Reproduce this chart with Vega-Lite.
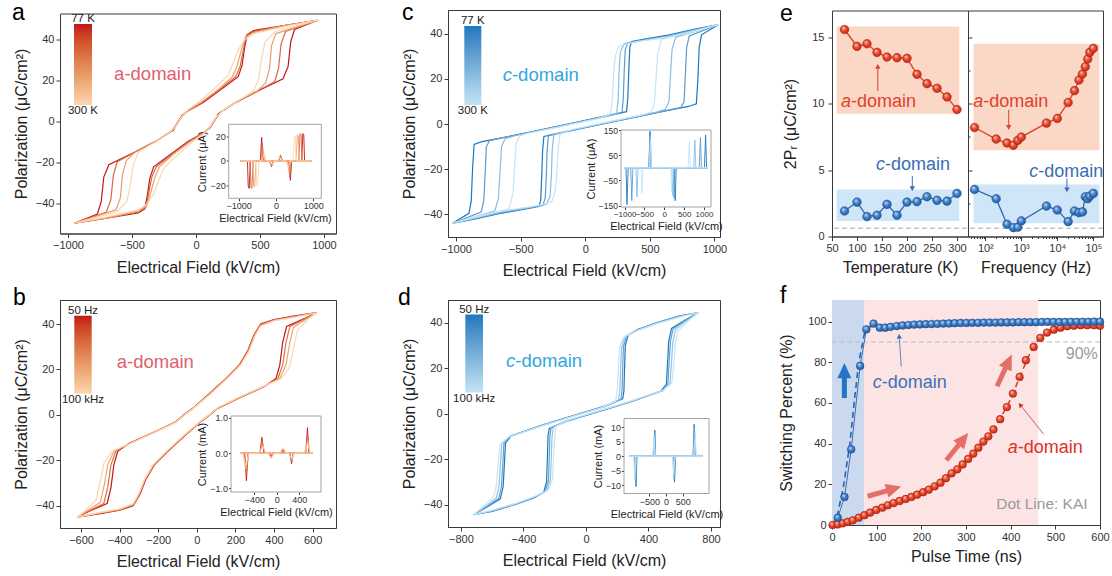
{
"$schema":"https://vega.github.io/schema/vega-lite/v6.json",
"background":"white",
"padding":{"left":11,"top":1,"right":4,"bottom":4},
"config":{
 "font":"Liberation Sans",
 "view":{"stroke":"#3a3a3a","strokeWidth":1},
 "axis":{"grid":false,"domainColor":"#3a3a3a","tickColor":"#3a3a3a","labelColor":"#333","titleColor":"#222","labelFontSize":11,"titleFontSize":16,"titleFontWeight":"normal","tickSize":4,"labelPadding":2,"labelOverlap":false,"labelFlush":false},
 "axisX":{"titlePadding":8.5},
 "axisY":{"titlePadding":6},
 "title":{"fontSize":23,"fontWeight":"normal","anchor":"start","frame":"group","offset":0,"baseline":"alphabetic","color":"#000"}
},
"datasets":{
"one":[{"k":1}],
"aLoop":[
{"T":77,"i":0,"E":950,"P":49.5},{"T":77,"i":1,"E":700,"P":47},{"T":77,"i":2,"E":450,"P":44.5},{"T":77,"i":3,"E":400,"P":42.5},{"T":77,"i":4,"E":380,"P":36},{"T":77,"i":5,"E":360,"P":27.5},{"T":77,"i":6,"E":330,"P":22},{"T":77,"i":7,"E":200,"P":16},{"T":77,"i":8,"E":60,"P":9.5},{"T":77,"i":9,"E":-70,"P":5},{"T":77,"i":10,"E":-110,"P":3},{"T":77,"i":11,"E":-140,"P":0},{"T":77,"i":12,"E":-175,"P":-4},{"T":77,"i":13,"E":-300,"P":-9},{"T":77,"i":14,"E":-500,"P":-15.5},{"T":77,"i":15,"E":-680,"P":-21},{"T":77,"i":16,"E":-720,"P":-27},{"T":77,"i":17,"E":-740,"P":-39},{"T":77,"i":18,"E":-770,"P":-45},{"T":77,"i":19,"E":-950,"P":-49.5},{"T":77,"i":20,"E":-700,"P":-47},{"T":77,"i":21,"E":-450,"P":-44.5},{"T":77,"i":22,"E":-400,"P":-42.5},{"T":77,"i":23,"E":-380,"P":-36},{"T":77,"i":24,"E":-360,"P":-27.5},{"T":77,"i":25,"E":-330,"P":-22},{"T":77,"i":26,"E":-200,"P":-16},{"T":77,"i":27,"E":-60,"P":-9.5},{"T":77,"i":28,"E":70,"P":-5},{"T":77,"i":29,"E":110,"P":-3},{"T":77,"i":30,"E":140,"P":0},{"T":77,"i":31,"E":175,"P":4},{"T":77,"i":32,"E":300,"P":9},{"T":77,"i":33,"E":500,"P":15.5},{"T":77,"i":34,"E":680,"P":21},{"T":77,"i":35,"E":720,"P":27},{"T":77,"i":36,"E":740,"P":39},{"T":77,"i":37,"E":770,"P":45},{"T":77,"i":38,"E":950,"P":49.5},
{"T":150,"i":0,"E":950,"P":49.5},{"T":150,"i":1,"E":700,"P":47},{"T":150,"i":2,"E":450,"P":44},{"T":150,"i":3,"E":390,"P":41.5},{"T":150,"i":4,"E":370,"P":35},{"T":150,"i":5,"E":345,"P":27},{"T":150,"i":6,"E":310,"P":22},{"T":150,"i":7,"E":190,"P":16},{"T":150,"i":8,"E":50,"P":9.5},{"T":150,"i":9,"E":-65,"P":5.5},{"T":150,"i":10,"E":-110,"P":2.5},{"T":150,"i":11,"E":-150,"P":-1},{"T":150,"i":12,"E":-190,"P":-4.5},{"T":150,"i":13,"E":-300,"P":-9},{"T":150,"i":14,"E":-480,"P":-15},{"T":150,"i":15,"E":-615,"P":-19.5},{"T":150,"i":16,"E":-645,"P":-26},{"T":150,"i":17,"E":-665,"P":-38},{"T":150,"i":18,"E":-700,"P":-44},{"T":150,"i":19,"E":-950,"P":-49.5},{"T":150,"i":20,"E":-700,"P":-47},{"T":150,"i":21,"E":-450,"P":-44},{"T":150,"i":22,"E":-390,"P":-41.5},{"T":150,"i":23,"E":-370,"P":-35},{"T":150,"i":24,"E":-345,"P":-27},{"T":150,"i":25,"E":-310,"P":-22},{"T":150,"i":26,"E":-190,"P":-16},{"T":150,"i":27,"E":-50,"P":-9.5},{"T":150,"i":28,"E":65,"P":-5.5},{"T":150,"i":29,"E":110,"P":-2.5},{"T":150,"i":30,"E":150,"P":1},{"T":150,"i":31,"E":190,"P":4.5},{"T":150,"i":32,"E":300,"P":9},{"T":150,"i":33,"E":480,"P":15},{"T":150,"i":34,"E":615,"P":19.5},{"T":150,"i":35,"E":645,"P":26},{"T":150,"i":36,"E":665,"P":38},{"T":150,"i":37,"E":700,"P":44},{"T":150,"i":38,"E":950,"P":49.5},
{"T":220,"i":0,"E":950,"P":49.5},{"T":220,"i":1,"E":700,"P":47},{"T":220,"i":2,"E":450,"P":43.5},{"T":220,"i":3,"E":385,"P":41},{"T":220,"i":4,"E":355,"P":35},{"T":220,"i":5,"E":320,"P":27},{"T":220,"i":6,"E":285,"P":22},{"T":220,"i":7,"E":180,"P":16},{"T":220,"i":8,"E":40,"P":9.5},{"T":220,"i":9,"E":-60,"P":5.5},{"T":220,"i":10,"E":-110,"P":2.5},{"T":220,"i":11,"E":-150,"P":-1.5},{"T":220,"i":12,"E":-200,"P":-5},{"T":220,"i":13,"E":-320,"P":-10},{"T":220,"i":14,"E":-480,"P":-15},{"T":220,"i":15,"E":-545,"P":-19},{"T":220,"i":16,"E":-575,"P":-26},{"T":220,"i":17,"E":-590,"P":-37},{"T":220,"i":18,"E":-625,"P":-43},{"T":220,"i":19,"E":-950,"P":-49.5},{"T":220,"i":20,"E":-700,"P":-47},{"T":220,"i":21,"E":-450,"P":-43.5},{"T":220,"i":22,"E":-385,"P":-41},{"T":220,"i":23,"E":-355,"P":-35},{"T":220,"i":24,"E":-320,"P":-27},{"T":220,"i":25,"E":-285,"P":-22},{"T":220,"i":26,"E":-180,"P":-16},{"T":220,"i":27,"E":-40,"P":-9.5},{"T":220,"i":28,"E":60,"P":-5.5},{"T":220,"i":29,"E":110,"P":-2.5},{"T":220,"i":30,"E":150,"P":1.5},{"T":220,"i":31,"E":200,"P":5},{"T":220,"i":32,"E":320,"P":10},{"T":220,"i":33,"E":480,"P":15},{"T":220,"i":34,"E":545,"P":19},{"T":220,"i":35,"E":575,"P":26},{"T":220,"i":36,"E":590,"P":37},{"T":220,"i":37,"E":625,"P":43},{"T":220,"i":38,"E":950,"P":49.5},
{"T":300,"i":0,"E":950,"P":49.5},{"T":300,"i":1,"E":700,"P":46.5},{"T":300,"i":2,"E":450,"P":43},{"T":300,"i":3,"E":380,"P":40},{"T":300,"i":4,"E":330,"P":35},{"T":300,"i":5,"E":290,"P":28.5},{"T":300,"i":6,"E":250,"P":22.5},{"T":300,"i":7,"E":150,"P":16.5},{"T":300,"i":8,"E":30,"P":10},{"T":300,"i":9,"E":-60,"P":6},{"T":300,"i":10,"E":-110,"P":2.5},{"T":300,"i":11,"E":-160,"P":-2.5},{"T":300,"i":12,"E":-220,"P":-6},{"T":300,"i":13,"E":-350,"P":-11},{"T":300,"i":14,"E":-450,"P":-15},{"T":300,"i":15,"E":-490,"P":-21},{"T":300,"i":16,"E":-510,"P":-30},{"T":300,"i":17,"E":-540,"P":-39},{"T":300,"i":18,"E":-620,"P":-44},{"T":300,"i":19,"E":-950,"P":-49.5},{"T":300,"i":20,"E":-700,"P":-46.5},{"T":300,"i":21,"E":-450,"P":-43},{"T":300,"i":22,"E":-380,"P":-40},{"T":300,"i":23,"E":-330,"P":-35},{"T":300,"i":24,"E":-290,"P":-28.5},{"T":300,"i":25,"E":-250,"P":-22.5},{"T":300,"i":26,"E":-150,"P":-16.5},{"T":300,"i":27,"E":-30,"P":-10},{"T":300,"i":28,"E":60,"P":-6},{"T":300,"i":29,"E":110,"P":-2.5},{"T":300,"i":30,"E":160,"P":2.5},{"T":300,"i":31,"E":220,"P":6},{"T":300,"i":32,"E":350,"P":11},{"T":300,"i":33,"E":450,"P":15},{"T":300,"i":34,"E":490,"P":21},{"T":300,"i":35,"E":510,"P":30},{"T":300,"i":36,"E":540,"P":39},{"T":300,"i":37,"E":620,"P":44},{"T":300,"i":38,"E":950,"P":49.5}
],
"aInset":[
{"T":77,"i":0,"E":-950,"I":0},{"T":77,"i":1,"E":-420,"I":0},{"T":77,"i":2,"E":-385,"I":19},{"T":77,"i":3,"E":-350,"I":1},{"T":77,"i":4,"E":-300,"I":0},{"T":77,"i":5,"E":80,"I":0},{"T":77,"i":6,"E":120,"I":4.5},{"T":77,"i":7,"E":160,"I":1},{"T":77,"i":8,"E":200,"I":0},{"T":77,"i":9,"E":690,"I":0},{"T":77,"i":10,"E":705,"I":12},{"T":77,"i":11,"E":720,"I":22},{"T":77,"i":12,"E":745,"I":21},{"T":77,"i":13,"E":765,"I":0},{"T":77,"i":14,"E":950,"I":0},{"T":77,"i":15,"E":420,"I":0},{"T":77,"i":16,"E":385,"I":-15.5},{"T":77,"i":17,"E":350,"I":-1},{"T":77,"i":18,"E":300,"I":0},{"T":77,"i":19,"E":-80,"I":0},{"T":77,"i":20,"E":-120,"I":-4.5},{"T":77,"i":21,"E":-160,"I":-1},{"T":77,"i":22,"E":-200,"I":0},{"T":77,"i":23,"E":-690,"I":0},{"T":77,"i":24,"E":-705,"I":-12},{"T":77,"i":25,"E":-720,"I":-22},{"T":77,"i":26,"E":-745,"I":-20},{"T":77,"i":27,"E":-765,"I":0},{"T":77,"i":28,"E":-950,"I":0},
{"T":150,"i":0,"E":-950,"I":0},{"T":150,"i":1,"E":-410,"I":0},{"T":150,"i":2,"E":-368,"I":14},{"T":150,"i":3,"E":-330,"I":1},{"T":150,"i":4,"E":-280,"I":0},{"T":150,"i":5,"E":70,"I":0},{"T":150,"i":6,"E":115,"I":4},{"T":150,"i":7,"E":160,"I":1},{"T":150,"i":8,"E":200,"I":0},{"T":150,"i":9,"E":610,"I":0},{"T":150,"i":10,"E":630,"I":12},{"T":150,"i":11,"E":648,"I":22},{"T":150,"i":12,"E":672,"I":21},{"T":150,"i":13,"E":695,"I":0},{"T":150,"i":14,"E":950,"I":0},{"T":150,"i":15,"E":410,"I":0},{"T":150,"i":16,"E":370,"I":-13},{"T":150,"i":17,"E":335,"I":-1},{"T":150,"i":18,"E":290,"I":0},{"T":150,"i":19,"E":-70,"I":0},{"T":150,"i":20,"E":-115,"I":-4},{"T":150,"i":21,"E":-160,"I":-1},{"T":150,"i":22,"E":-200,"I":0},{"T":150,"i":23,"E":-610,"I":0},{"T":150,"i":24,"E":-630,"I":-12},{"T":150,"i":25,"E":-648,"I":-22},{"T":150,"i":26,"E":-672,"I":-21},{"T":150,"i":27,"E":-695,"I":0},{"T":150,"i":28,"E":-950,"I":0},
{"T":220,"i":0,"E":-950,"I":0},{"T":220,"i":1,"E":-400,"I":0},{"T":220,"i":2,"E":-350,"I":9},{"T":220,"i":3,"E":-310,"I":1},{"T":220,"i":4,"E":-260,"I":0},{"T":220,"i":5,"E":60,"I":0},{"T":220,"i":6,"E":110,"I":3.5},{"T":220,"i":7,"E":160,"I":1},{"T":220,"i":8,"E":200,"I":0},{"T":220,"i":9,"E":535,"I":0},{"T":220,"i":10,"E":555,"I":11},{"T":220,"i":11,"E":573,"I":21},{"T":220,"i":12,"E":598,"I":20},{"T":220,"i":13,"E":620,"I":0},{"T":220,"i":14,"E":950,"I":0},{"T":220,"i":15,"E":400,"I":0},{"T":220,"i":16,"E":355,"I":-9},{"T":220,"i":17,"E":315,"I":-1},{"T":220,"i":18,"E":270,"I":0},{"T":220,"i":19,"E":-60,"I":0},{"T":220,"i":20,"E":-110,"I":-3.5},{"T":220,"i":21,"E":-160,"I":-1},{"T":220,"i":22,"E":-200,"I":0},{"T":220,"i":23,"E":-535,"I":0},{"T":220,"i":24,"E":-555,"I":-11},{"T":220,"i":25,"E":-573,"I":-21},{"T":220,"i":26,"E":-598,"I":-20},{"T":220,"i":27,"E":-620,"I":0},{"T":220,"i":28,"E":-950,"I":0},
{"T":300,"i":0,"E":-950,"I":0},{"T":300,"i":1,"E":-380,"I":0},{"T":300,"i":2,"E":-320,"I":6},{"T":300,"i":3,"E":-270,"I":1},{"T":300,"i":4,"E":-220,"I":0},{"T":300,"i":5,"E":50,"I":0},{"T":300,"i":6,"E":100,"I":3},{"T":300,"i":7,"E":150,"I":1},{"T":300,"i":8,"E":190,"I":0},{"T":300,"i":9,"E":455,"I":0},{"T":300,"i":10,"E":475,"I":10},{"T":300,"i":11,"E":492,"I":20},{"T":300,"i":12,"E":518,"I":19},{"T":300,"i":13,"E":540,"I":0},{"T":300,"i":14,"E":950,"I":0},{"T":300,"i":15,"E":380,"I":0},{"T":300,"i":16,"E":325,"I":-6},{"T":300,"i":17,"E":275,"I":-1},{"T":300,"i":18,"E":230,"I":0},{"T":300,"i":19,"E":-50,"I":0},{"T":300,"i":20,"E":-100,"I":-3},{"T":300,"i":21,"E":-150,"I":-1},{"T":300,"i":22,"E":-190,"I":0},{"T":300,"i":23,"E":-455,"I":0},{"T":300,"i":24,"E":-475,"I":-10},{"T":300,"i":25,"E":-492,"I":-20},{"T":300,"i":26,"E":-518,"I":-19},{"T":300,"i":27,"E":-540,"I":0},{"T":300,"i":28,"E":-950,"I":0}
],
"cLoop":[
{"T":77,"i":0,"E":1030,"P":44},{"T":77,"i":1,"E":850,"P":42},{"T":77,"i":2,"E":650,"P":39.5},{"T":77,"i":3,"E":450,"P":37.5},{"T":77,"i":4,"E":360,"P":36.5},{"T":77,"i":5,"E":345,"P":34},{"T":77,"i":6,"E":338,"P":25},{"T":77,"i":7,"E":330,"P":12},{"T":77,"i":8,"E":320,"P":5.5},{"T":77,"i":9,"E":150,"P":3.5},{"T":77,"i":10,"E":0,"P":1.6},{"T":77,"i":11,"E":-200,"P":-0.8},{"T":77,"i":12,"E":-400,"P":-3.2},{"T":77,"i":13,"E":-600,"P":-5.6},{"T":77,"i":14,"E":-800,"P":-7.8},{"T":77,"i":15,"E":-860,"P":-9},{"T":77,"i":16,"E":-872,"P":-20},{"T":77,"i":17,"E":-882,"P":-34},{"T":77,"i":18,"E":-900,"P":-39.5},{"T":77,"i":19,"E":-1030,"P":-44},{"T":77,"i":20,"E":-850,"P":-42},{"T":77,"i":21,"E":-650,"P":-39.5},{"T":77,"i":22,"E":-450,"P":-37.5},{"T":77,"i":23,"E":-360,"P":-36.5},{"T":77,"i":24,"E":-345,"P":-34},{"T":77,"i":25,"E":-338,"P":-25},{"T":77,"i":26,"E":-330,"P":-12},{"T":77,"i":27,"E":-320,"P":-5.5},{"T":77,"i":28,"E":-150,"P":-3.5},{"T":77,"i":29,"E":0,"P":-1.6},{"T":77,"i":30,"E":200,"P":0.8},{"T":77,"i":31,"E":400,"P":3.2},{"T":77,"i":32,"E":600,"P":5.6},{"T":77,"i":33,"E":800,"P":7.8},{"T":77,"i":34,"E":860,"P":9},{"T":77,"i":35,"E":872,"P":20},{"T":77,"i":36,"E":882,"P":34},{"T":77,"i":37,"E":900,"P":39.5},{"T":77,"i":38,"E":1030,"P":44},
{"T":150,"i":0,"E":1030,"P":44},{"T":150,"i":1,"E":850,"P":41.8},{"T":150,"i":2,"E":650,"P":39.2},{"T":150,"i":3,"E":450,"P":37.2},{"T":150,"i":4,"E":330,"P":36},{"T":150,"i":5,"E":310,"P":33},{"T":150,"i":6,"E":302,"P":24},{"T":150,"i":7,"E":295,"P":12},{"T":150,"i":8,"E":285,"P":5},{"T":150,"i":9,"E":150,"P":3.3},{"T":150,"i":10,"E":0,"P":1.5},{"T":150,"i":11,"E":-200,"P":-1},{"T":150,"i":12,"E":-400,"P":-3.3},{"T":150,"i":13,"E":-600,"P":-5.6},{"T":150,"i":14,"E":-740,"P":-7.3},{"T":150,"i":15,"E":-765,"P":-10},{"T":150,"i":16,"E":-775,"P":-22},{"T":150,"i":17,"E":-785,"P":-34},{"T":150,"i":18,"E":-805,"P":-39},{"T":150,"i":19,"E":-1030,"P":-44},{"T":150,"i":20,"E":-850,"P":-41.8},{"T":150,"i":21,"E":-650,"P":-39.2},{"T":150,"i":22,"E":-450,"P":-37.2},{"T":150,"i":23,"E":-330,"P":-36},{"T":150,"i":24,"E":-310,"P":-33},{"T":150,"i":25,"E":-302,"P":-24},{"T":150,"i":26,"E":-295,"P":-12},{"T":150,"i":27,"E":-285,"P":-5},{"T":150,"i":28,"E":-150,"P":-3.3},{"T":150,"i":29,"E":0,"P":-1.5},{"T":150,"i":30,"E":200,"P":1},{"T":150,"i":31,"E":400,"P":3.3},{"T":150,"i":32,"E":600,"P":5.6},{"T":150,"i":33,"E":740,"P":7.3},{"T":150,"i":34,"E":765,"P":10},{"T":150,"i":35,"E":775,"P":22},{"T":150,"i":36,"E":785,"P":34},{"T":150,"i":37,"E":805,"P":39},{"T":150,"i":38,"E":1030,"P":44},
{"T":220,"i":0,"E":1030,"P":44},{"T":220,"i":1,"E":850,"P":41.5},{"T":220,"i":2,"E":650,"P":39},{"T":220,"i":3,"E":450,"P":37},{"T":220,"i":4,"E":300,"P":35.5},{"T":220,"i":5,"E":272,"P":32},{"T":220,"i":6,"E":262,"P":23},{"T":220,"i":7,"E":255,"P":11},{"T":220,"i":8,"E":243,"P":4.5},{"T":220,"i":9,"E":150,"P":3.2},{"T":220,"i":10,"E":0,"P":1.4},{"T":220,"i":11,"E":-200,"P":-1.1},{"T":220,"i":12,"E":-400,"P":-3.4},{"T":220,"i":13,"E":-550,"P":-5.3},{"T":220,"i":14,"E":-620,"P":-6.5},{"T":220,"i":15,"E":-648,"P":-10},{"T":220,"i":16,"E":-660,"P":-22},{"T":220,"i":17,"E":-672,"P":-33},{"T":220,"i":18,"E":-700,"P":-38.5},{"T":220,"i":19,"E":-1030,"P":-44},{"T":220,"i":20,"E":-850,"P":-41.5},{"T":220,"i":21,"E":-650,"P":-39},{"T":220,"i":22,"E":-450,"P":-37},{"T":220,"i":23,"E":-300,"P":-35.5},{"T":220,"i":24,"E":-272,"P":-32},{"T":220,"i":25,"E":-262,"P":-23},{"T":220,"i":26,"E":-255,"P":-11},{"T":220,"i":27,"E":-243,"P":-4.5},{"T":220,"i":28,"E":-150,"P":-3.2},{"T":220,"i":29,"E":0,"P":-1.4},{"T":220,"i":30,"E":200,"P":1.1},{"T":220,"i":31,"E":400,"P":3.4},{"T":220,"i":32,"E":550,"P":5.3},{"T":220,"i":33,"E":620,"P":6.5},{"T":220,"i":34,"E":648,"P":10},{"T":220,"i":35,"E":660,"P":22},{"T":220,"i":36,"E":672,"P":33},{"T":220,"i":37,"E":700,"P":38.5},{"T":220,"i":38,"E":1030,"P":44},
{"T":300,"i":0,"E":1030,"P":44},{"T":300,"i":1,"E":850,"P":41},{"T":300,"i":2,"E":650,"P":38.5},{"T":300,"i":3,"E":400,"P":36.5},{"T":300,"i":4,"E":260,"P":34.5},{"T":300,"i":5,"E":232,"P":30},{"T":300,"i":6,"E":220,"P":22},{"T":300,"i":7,"E":210,"P":11},{"T":300,"i":8,"E":195,"P":4.5},{"T":300,"i":9,"E":100,"P":2.4},{"T":300,"i":10,"E":0,"P":1.2},{"T":300,"i":11,"E":-150,"P":-0.6},{"T":300,"i":12,"E":-300,"P":-2.4},{"T":300,"i":13,"E":-450,"P":-4.2},{"T":300,"i":14,"E":-510,"P":-5.3},{"T":300,"i":15,"E":-535,"P":-9},{"T":300,"i":16,"E":-548,"P":-20},{"T":300,"i":17,"E":-560,"P":-31},{"T":300,"i":18,"E":-590,"P":-37.5},{"T":300,"i":19,"E":-1030,"P":-44},{"T":300,"i":20,"E":-850,"P":-41},{"T":300,"i":21,"E":-650,"P":-38.5},{"T":300,"i":22,"E":-400,"P":-36.5},{"T":300,"i":23,"E":-260,"P":-34.5},{"T":300,"i":24,"E":-232,"P":-30},{"T":300,"i":25,"E":-220,"P":-22},{"T":300,"i":26,"E":-210,"P":-11},{"T":300,"i":27,"E":-195,"P":-4.5},{"T":300,"i":28,"E":-100,"P":-2.4},{"T":300,"i":29,"E":0,"P":-1.2},{"T":300,"i":30,"E":150,"P":0.6},{"T":300,"i":31,"E":300,"P":2.4},{"T":300,"i":32,"E":450,"P":4.2},{"T":300,"i":33,"E":510,"P":5.3},{"T":300,"i":34,"E":535,"P":9},{"T":300,"i":35,"E":548,"P":20},{"T":300,"i":36,"E":560,"P":31},{"T":300,"i":37,"E":590,"P":37.5},{"T":300,"i":38,"E":1030,"P":44}
],
"cInset":[
{"T":77,"i":0,"E":-1000,"I":0},{"T":77,"i":1,"E":-390,"I":0},{"T":77,"i":2,"E":-360,"I":145},{"T":77,"i":3,"E":-335,"I":0},{"T":77,"i":4,"E":1010,"I":0},{"T":77,"i":5,"E":1040,"I":130},{"T":77,"i":6,"E":1065,"I":0},{"T":77,"i":7,"E":1100,"I":0},{"T":77,"i":8,"E":300,"I":0},{"T":77,"i":9,"E":275,"I":-130},{"T":77,"i":10,"E":250,"I":0},{"T":77,"i":11,"E":-910,"I":0},{"T":77,"i":12,"E":-940,"I":-145},{"T":77,"i":13,"E":-965,"I":0},{"T":77,"i":14,"E":-1000,"I":0},
{"T":150,"i":0,"E":-1000,"I":0},{"T":150,"i":1,"E":-385,"I":0},{"T":150,"i":2,"E":-355,"I":140},{"T":150,"i":3,"E":-330,"I":0},{"T":150,"i":4,"E":880,"I":0},{"T":150,"i":5,"E":910,"I":120},{"T":150,"i":6,"E":935,"I":0},{"T":150,"i":7,"E":1100,"I":0},{"T":150,"i":8,"E":270,"I":0},{"T":150,"i":9,"E":245,"I":-120},{"T":150,"i":10,"E":220,"I":0},{"T":150,"i":11,"E":-790,"I":0},{"T":150,"i":12,"E":-820,"I":-130},{"T":150,"i":13,"E":-845,"I":0},{"T":150,"i":14,"E":-1000,"I":0},
{"T":220,"i":0,"E":-1000,"I":0},{"T":220,"i":1,"E":-380,"I":0},{"T":220,"i":2,"E":-350,"I":125},{"T":220,"i":3,"E":-325,"I":0},{"T":220,"i":4,"E":740,"I":0},{"T":220,"i":5,"E":770,"I":110},{"T":220,"i":6,"E":795,"I":0},{"T":220,"i":7,"E":1100,"I":0},{"T":220,"i":8,"E":240,"I":0},{"T":220,"i":9,"E":215,"I":-110},{"T":220,"i":10,"E":190,"I":0},{"T":220,"i":11,"E":-660,"I":0},{"T":220,"i":12,"E":-690,"I":-115},{"T":220,"i":13,"E":-715,"I":0},{"T":220,"i":14,"E":-1000,"I":0},
{"T":300,"i":0,"E":-1000,"I":0},{"T":300,"i":1,"E":-375,"I":0},{"T":300,"i":2,"E":-345,"I":110},{"T":300,"i":3,"E":-320,"I":0},{"T":300,"i":4,"E":600,"I":0},{"T":300,"i":5,"E":630,"I":100},{"T":300,"i":6,"E":655,"I":0},{"T":300,"i":7,"E":1100,"I":0},{"T":300,"i":8,"E":210,"I":0},{"T":300,"i":9,"E":185,"I":-95},{"T":300,"i":10,"E":160,"I":0},{"T":300,"i":11,"E":-530,"I":0},{"T":300,"i":12,"E":-560,"I":-100},{"T":300,"i":13,"E":-585,"I":0},{"T":300,"i":14,"E":-1000,"I":0}
],
"bLoop":[
{"F":50,"i":0,"E":620,"P":45},{"F":50,"i":1,"E":500,"P":43.5},{"F":50,"i":2,"E":400,"P":42},{"F":50,"i":3,"E":330,"P":40},{"F":50,"i":4,"E":295,"P":35},{"F":50,"i":5,"E":265,"P":28.5},{"F":50,"i":6,"E":220,"P":22},{"F":50,"i":7,"E":150,"P":16},{"F":50,"i":8,"E":60,"P":9},{"F":50,"i":9,"E":-20,"P":3},{"F":50,"i":10,"E":-60,"P":0.5},{"F":50,"i":11,"E":-110,"P":-3},{"F":50,"i":12,"E":-220,"P":-7.5},{"F":50,"i":13,"E":-350,"P":-12.5},{"F":50,"i":14,"E":-410,"P":-16},{"F":50,"i":15,"E":-430,"P":-22},{"F":50,"i":16,"E":-445,"P":-32},{"F":50,"i":17,"E":-465,"P":-39},{"F":50,"i":18,"E":-560,"P":-42.5},{"F":50,"i":19,"E":-620,"P":-45},{"F":50,"i":20,"E":-500,"P":-43.5},{"F":50,"i":21,"E":-400,"P":-42},{"F":50,"i":22,"E":-330,"P":-40},{"F":50,"i":23,"E":-295,"P":-35},{"F":50,"i":24,"E":-265,"P":-28.5},{"F":50,"i":25,"E":-220,"P":-22},{"F":50,"i":26,"E":-150,"P":-16},{"F":50,"i":27,"E":-60,"P":-9},{"F":50,"i":28,"E":20,"P":-3},{"F":50,"i":29,"E":60,"P":-0.5},{"F":50,"i":30,"E":110,"P":3},{"F":50,"i":31,"E":220,"P":7.5},{"F":50,"i":32,"E":350,"P":12.5},{"F":50,"i":33,"E":410,"P":16},{"F":50,"i":34,"E":430,"P":22},{"F":50,"i":35,"E":445,"P":32},{"F":50,"i":36,"E":465,"P":39},{"F":50,"i":37,"E":560,"P":42.5},{"F":50,"i":38,"E":620,"P":45},
{"F":1000,"i":0,"E":620,"P":45},{"F":1000,"i":1,"E":500,"P":43.3},{"F":1000,"i":2,"E":400,"P":41.8},{"F":1000,"i":3,"E":330,"P":39.7},{"F":1000,"i":4,"E":298,"P":35},{"F":1000,"i":5,"E":268,"P":28.5},{"F":1000,"i":6,"E":222,"P":22},{"F":1000,"i":7,"E":150,"P":15.8},{"F":1000,"i":8,"E":60,"P":8.8},{"F":1000,"i":9,"E":-20,"P":2.9},{"F":1000,"i":10,"E":-60,"P":0.4},{"F":1000,"i":11,"E":-110,"P":-3.1},{"F":1000,"i":12,"E":-220,"P":-7.6},{"F":1000,"i":13,"E":-350,"P":-12.6},{"F":1000,"i":14,"E":-420,"P":-16},{"F":1000,"i":15,"E":-445,"P":-22},{"F":1000,"i":16,"E":-462,"P":-32},{"F":1000,"i":17,"E":-482,"P":-39},{"F":1000,"i":18,"E":-565,"P":-42.5},{"F":1000,"i":19,"E":-620,"P":-45},{"F":1000,"i":20,"E":-500,"P":-43.3},{"F":1000,"i":21,"E":-400,"P":-41.8},{"F":1000,"i":22,"E":-330,"P":-39.7},{"F":1000,"i":23,"E":-298,"P":-35},{"F":1000,"i":24,"E":-268,"P":-28.5},{"F":1000,"i":25,"E":-222,"P":-22},{"F":1000,"i":26,"E":-150,"P":-15.8},{"F":1000,"i":27,"E":-60,"P":-8.8},{"F":1000,"i":28,"E":20,"P":-2.9},{"F":1000,"i":29,"E":60,"P":-0.4},{"F":1000,"i":30,"E":110,"P":3.1},{"F":1000,"i":31,"E":220,"P":7.6},{"F":1000,"i":32,"E":350,"P":12.6},{"F":1000,"i":33,"E":420,"P":16},{"F":1000,"i":34,"E":445,"P":22},{"F":1000,"i":35,"E":462,"P":32},{"F":1000,"i":36,"E":482,"P":39},{"F":1000,"i":37,"E":565,"P":42.5},{"F":1000,"i":38,"E":620,"P":45},
{"F":10000,"i":0,"E":620,"P":45},{"F":10000,"i":1,"E":500,"P":43.1},{"F":10000,"i":2,"E":400,"P":41.6},{"F":10000,"i":3,"E":330,"P":39.4},{"F":10000,"i":4,"E":300,"P":35},{"F":10000,"i":5,"E":270,"P":28.5},{"F":10000,"i":6,"E":225,"P":22},{"F":10000,"i":7,"E":150,"P":15.6},{"F":10000,"i":8,"E":60,"P":8.6},{"F":10000,"i":9,"E":-20,"P":2.8},{"F":10000,"i":10,"E":-60,"P":0.3},{"F":10000,"i":11,"E":-110,"P":-3.2},{"F":10000,"i":12,"E":-220,"P":-7.7},{"F":10000,"i":13,"E":-350,"P":-12.7},{"F":10000,"i":14,"E":-430,"P":-16},{"F":10000,"i":15,"E":-462,"P":-22},{"F":10000,"i":16,"E":-480,"P":-31},{"F":10000,"i":17,"E":-500,"P":-38.5},{"F":10000,"i":18,"E":-570,"P":-42.3},{"F":10000,"i":19,"E":-620,"P":-45},{"F":10000,"i":20,"E":-500,"P":-43.1},{"F":10000,"i":21,"E":-400,"P":-41.6},{"F":10000,"i":22,"E":-330,"P":-39.4},{"F":10000,"i":23,"E":-300,"P":-35},{"F":10000,"i":24,"E":-270,"P":-28.5},{"F":10000,"i":25,"E":-225,"P":-22},{"F":10000,"i":26,"E":-150,"P":-15.6},{"F":10000,"i":27,"E":-60,"P":-8.6},{"F":10000,"i":28,"E":20,"P":-2.8},{"F":10000,"i":29,"E":60,"P":-0.3},{"F":10000,"i":30,"E":110,"P":3.2},{"F":10000,"i":31,"E":220,"P":7.7},{"F":10000,"i":32,"E":350,"P":12.7},{"F":10000,"i":33,"E":430,"P":16},{"F":10000,"i":34,"E":462,"P":22},{"F":10000,"i":35,"E":480,"P":31},{"F":10000,"i":36,"E":500,"P":38.5},{"F":10000,"i":37,"E":570,"P":42.3},{"F":10000,"i":38,"E":620,"P":45},
{"F":100000,"i":0,"E":620,"P":45},{"F":100000,"i":1,"E":500,"P":42.9},{"F":100000,"i":2,"E":400,"P":41.4},{"F":100000,"i":3,"E":330,"P":39.1},{"F":100000,"i":4,"E":302,"P":35},{"F":100000,"i":5,"E":272,"P":28.5},{"F":100000,"i":6,"E":228,"P":22},{"F":100000,"i":7,"E":150,"P":15.4},{"F":100000,"i":8,"E":60,"P":8.4},{"F":100000,"i":9,"E":-20,"P":2.7},{"F":100000,"i":10,"E":-60,"P":0.2},{"F":100000,"i":11,"E":-110,"P":-3.3},{"F":100000,"i":12,"E":-220,"P":-7.8},{"F":100000,"i":13,"E":-350,"P":-12.8},{"F":100000,"i":14,"E":-440,"P":-16},{"F":100000,"i":15,"E":-480,"P":-21},{"F":100000,"i":16,"E":-500,"P":-29},{"F":100000,"i":17,"E":-520,"P":-37},{"F":100000,"i":18,"E":-575,"P":-42},{"F":100000,"i":19,"E":-620,"P":-45},{"F":100000,"i":20,"E":-500,"P":-42.9},{"F":100000,"i":21,"E":-400,"P":-41.4},{"F":100000,"i":22,"E":-330,"P":-39.1},{"F":100000,"i":23,"E":-302,"P":-35},{"F":100000,"i":24,"E":-272,"P":-28.5},{"F":100000,"i":25,"E":-228,"P":-22},{"F":100000,"i":26,"E":-150,"P":-15.4},{"F":100000,"i":27,"E":-60,"P":-8.4},{"F":100000,"i":28,"E":20,"P":-2.7},{"F":100000,"i":29,"E":60,"P":-0.2},{"F":100000,"i":30,"E":110,"P":3.3},{"F":100000,"i":31,"E":220,"P":7.8},{"F":100000,"i":32,"E":350,"P":12.8},{"F":100000,"i":33,"E":440,"P":16},{"F":100000,"i":34,"E":480,"P":21},{"F":100000,"i":35,"E":500,"P":29},{"F":100000,"i":36,"E":520,"P":37},{"F":100000,"i":37,"E":575,"P":42},{"F":100000,"i":38,"E":620,"P":45}
],
"bInset":[
{"F":50,"i":0,"E":-640,"I":0},{"F":50,"i":1,"E":-300,"I":0},{"F":50,"i":2,"E":-265,"I":0.45},{"F":50,"i":3,"E":-230,"I":0},{"F":50,"i":4,"E":80,"I":0},{"F":50,"i":5,"E":110,"I":0.1},{"F":50,"i":6,"E":140,"I":0},{"F":50,"i":7,"E":515,"I":0},{"F":50,"i":8,"E":545,"I":0.72},{"F":50,"i":9,"E":570,"I":0},{"F":50,"i":10,"E":640,"I":0},{"F":50,"i":11,"E":295,"I":0},{"F":50,"i":12,"E":262,"I":-0.3},{"F":50,"i":13,"E":235,"I":0},{"F":50,"i":14,"E":-70,"I":0},{"F":50,"i":15,"E":-100,"I":-0.1},{"F":50,"i":16,"E":-130,"I":0},{"F":50,"i":17,"E":-510,"I":0},{"F":50,"i":18,"E":-540,"I":-0.78},{"F":50,"i":19,"E":-570,"I":0},{"F":50,"i":20,"E":-640,"I":0},
{"F":1000,"i":0,"E":-640,"I":0},{"F":1000,"i":1,"E":-305,"I":0},{"F":1000,"i":2,"E":-258,"I":0.35},{"F":1000,"i":3,"E":-220,"I":0},{"F":1000,"i":4,"E":70,"I":0},{"F":1000,"i":5,"E":110,"I":0.12},{"F":1000,"i":6,"E":150,"I":0},{"F":1000,"i":7,"E":505,"I":0},{"F":1000,"i":8,"E":550,"I":0.5},{"F":1000,"i":9,"E":580,"I":0},{"F":1000,"i":10,"E":640,"I":0},{"F":1000,"i":11,"E":300,"I":0},{"F":1000,"i":12,"E":265,"I":-0.25},{"F":1000,"i":13,"E":225,"I":0},{"F":1000,"i":14,"E":-60,"I":0},{"F":1000,"i":15,"E":-100,"I":-0.12},{"F":1000,"i":16,"E":-140,"I":0},{"F":1000,"i":17,"E":-500,"I":0},{"F":1000,"i":18,"E":-545,"I":-0.6},{"F":1000,"i":19,"E":-580,"I":0},{"F":1000,"i":20,"E":-640,"I":0},
{"F":10000,"i":0,"E":-640,"I":0},{"F":10000,"i":1,"E":-310,"I":0},{"F":10000,"i":2,"E":-250,"I":0.25},{"F":10000,"i":3,"E":-205,"I":0},{"F":10000,"i":4,"E":60,"I":0},{"F":10000,"i":5,"E":110,"I":0.14},{"F":10000,"i":6,"E":160,"I":0},{"F":10000,"i":7,"E":495,"I":0},{"F":10000,"i":8,"E":550,"I":0.36},{"F":10000,"i":9,"E":590,"I":0},{"F":10000,"i":10,"E":640,"I":0},{"F":10000,"i":11,"E":310,"I":0},{"F":10000,"i":12,"E":268,"I":-0.2},{"F":10000,"i":13,"E":215,"I":0},{"F":10000,"i":14,"E":-50,"I":0},{"F":10000,"i":15,"E":-100,"I":-0.14},{"F":10000,"i":16,"E":-150,"I":0},{"F":10000,"i":17,"E":-495,"I":0},{"F":10000,"i":18,"E":-550,"I":-0.45},{"F":10000,"i":19,"E":-595,"I":0},{"F":10000,"i":20,"E":-640,"I":0},
{"F":100000,"i":0,"E":-640,"I":0},{"F":100000,"i":1,"E":-320,"I":0},{"F":100000,"i":2,"E":-245,"I":0.18},{"F":100000,"i":3,"E":-190,"I":0},{"F":100000,"i":4,"E":50,"I":0},{"F":100000,"i":5,"E":110,"I":0.15},{"F":100000,"i":6,"E":170,"I":0},{"F":100000,"i":7,"E":485,"I":0},{"F":100000,"i":8,"E":548,"I":0.26},{"F":100000,"i":9,"E":600,"I":0},{"F":100000,"i":10,"E":640,"I":0},{"F":100000,"i":11,"E":320,"I":0},{"F":100000,"i":12,"E":272,"I":-0.15},{"F":100000,"i":13,"E":205,"I":0},{"F":100000,"i":14,"E":-40,"I":0},{"F":100000,"i":15,"E":-100,"I":-0.15},{"F":100000,"i":16,"E":-160,"I":0},{"F":100000,"i":17,"E":-490,"I":0},{"F":100000,"i":18,"E":-555,"I":-0.35},{"F":100000,"i":19,"E":-610,"I":0},{"F":100000,"i":20,"E":-640,"I":0}
],
"dLoop":[
{"F":50,"i":0,"E":720,"P":44.5},{"F":50,"i":1,"E":600,"P":43},{"F":50,"i":2,"E":450,"P":40},{"F":50,"i":3,"E":330,"P":37},{"F":50,"i":4,"E":270,"P":34.5},{"F":50,"i":5,"E":252,"P":30},{"F":50,"i":6,"E":247,"P":20},{"F":50,"i":7,"E":243,"P":10},{"F":50,"i":8,"E":235,"P":6.5},{"F":50,"i":9,"E":120,"P":3.3},{"F":50,"i":10,"E":0,"P":0.8},{"F":50,"i":11,"E":-150,"P":-2.3},{"F":50,"i":12,"E":-300,"P":-5.5},{"F":50,"i":13,"E":-480,"P":-9.9},{"F":50,"i":14,"E":-515,"P":-13},{"F":50,"i":15,"E":-522,"P":-22},{"F":50,"i":16,"E":-530,"P":-32},{"F":50,"i":17,"E":-548,"P":-37.5},{"F":50,"i":18,"E":-630,"P":-41},{"F":50,"i":19,"E":-720,"P":-44.5},{"F":50,"i":20,"E":-600,"P":-43},{"F":50,"i":21,"E":-450,"P":-40},{"F":50,"i":22,"E":-330,"P":-37},{"F":50,"i":23,"E":-270,"P":-34.5},{"F":50,"i":24,"E":-252,"P":-30},{"F":50,"i":25,"E":-247,"P":-20},{"F":50,"i":26,"E":-243,"P":-10},{"F":50,"i":27,"E":-235,"P":-6.5},{"F":50,"i":28,"E":-120,"P":-3.3},{"F":50,"i":29,"E":0,"P":-0.8},{"F":50,"i":30,"E":150,"P":2.3},{"F":50,"i":31,"E":300,"P":5.5},{"F":50,"i":32,"E":480,"P":9.9},{"F":50,"i":33,"E":515,"P":13},{"F":50,"i":34,"E":522,"P":22},{"F":50,"i":35,"E":530,"P":32},{"F":50,"i":36,"E":548,"P":37.5},{"F":50,"i":37,"E":630,"P":41},{"F":50,"i":38,"E":720,"P":44.5},
{"F":1000,"i":0,"E":720,"P":44.5},{"F":1000,"i":1,"E":600,"P":42.8},{"F":1000,"i":2,"E":450,"P":39.8},{"F":1000,"i":3,"E":330,"P":36.8},{"F":1000,"i":4,"E":260,"P":34.2},{"F":1000,"i":5,"E":240,"P":29.5},{"F":1000,"i":6,"E":235,"P":19.5},{"F":1000,"i":7,"E":231,"P":10},{"F":1000,"i":8,"E":223,"P":6.2},{"F":1000,"i":9,"E":120,"P":3.1},{"F":1000,"i":10,"E":0,"P":0.7},{"F":1000,"i":11,"E":-150,"P":-2.4},{"F":1000,"i":12,"E":-300,"P":-5.6},{"F":1000,"i":13,"E":-490,"P":-10.1},{"F":1000,"i":14,"E":-525,"P":-13.2},{"F":1000,"i":15,"E":-532,"P":-22},{"F":1000,"i":16,"E":-541,"P":-32},{"F":1000,"i":17,"E":-558,"P":-37.3},{"F":1000,"i":18,"E":-635,"P":-40.9},{"F":1000,"i":19,"E":-720,"P":-44.5},{"F":1000,"i":20,"E":-600,"P":-42.8},{"F":1000,"i":21,"E":-450,"P":-39.8},{"F":1000,"i":22,"E":-330,"P":-36.8},{"F":1000,"i":23,"E":-260,"P":-34.2},{"F":1000,"i":24,"E":-240,"P":-29.5},{"F":1000,"i":25,"E":-235,"P":-19.5},{"F":1000,"i":26,"E":-231,"P":-10},{"F":1000,"i":27,"E":-223,"P":-6.2},{"F":1000,"i":28,"E":-120,"P":-3.1},{"F":1000,"i":29,"E":0,"P":-0.7},{"F":1000,"i":30,"E":150,"P":2.4},{"F":1000,"i":31,"E":300,"P":5.6},{"F":1000,"i":32,"E":490,"P":10.1},{"F":1000,"i":33,"E":525,"P":13.2},{"F":1000,"i":34,"E":532,"P":22},{"F":1000,"i":35,"E":541,"P":32},{"F":1000,"i":36,"E":558,"P":37.3},{"F":1000,"i":37,"E":635,"P":40.9},{"F":1000,"i":38,"E":720,"P":44.5},
{"F":10000,"i":0,"E":720,"P":44.5},{"F":10000,"i":1,"E":600,"P":42.7},{"F":10000,"i":2,"E":450,"P":39.7},{"F":10000,"i":3,"E":330,"P":36.7},{"F":10000,"i":4,"E":250,"P":34},{"F":10000,"i":5,"E":228,"P":29.2},{"F":10000,"i":6,"E":222,"P":19.5},{"F":10000,"i":7,"E":217,"P":10},{"F":10000,"i":8,"E":208,"P":6},{"F":10000,"i":9,"E":110,"P":2.9},{"F":10000,"i":10,"E":0,"P":0.6},{"F":10000,"i":11,"E":-150,"P":-2.5},{"F":10000,"i":12,"E":-300,"P":-5.7},{"F":10000,"i":13,"E":-495,"P":-10.3},{"F":10000,"i":14,"E":-538,"P":-13.4},{"F":10000,"i":15,"E":-547,"P":-22},{"F":10000,"i":16,"E":-556,"P":-31.5},{"F":10000,"i":17,"E":-573,"P":-37},{"F":10000,"i":18,"E":-640,"P":-40.7},{"F":10000,"i":19,"E":-720,"P":-44.5},{"F":10000,"i":20,"E":-600,"P":-42.7},{"F":10000,"i":21,"E":-450,"P":-39.7},{"F":10000,"i":22,"E":-330,"P":-36.7},{"F":10000,"i":23,"E":-250,"P":-34},{"F":10000,"i":24,"E":-228,"P":-29.2},{"F":10000,"i":25,"E":-222,"P":-19.5},{"F":10000,"i":26,"E":-217,"P":-10},{"F":10000,"i":27,"E":-208,"P":-6},{"F":10000,"i":28,"E":-110,"P":-2.9},{"F":10000,"i":29,"E":0,"P":-0.6},{"F":10000,"i":30,"E":150,"P":2.5},{"F":10000,"i":31,"E":300,"P":5.7},{"F":10000,"i":32,"E":495,"P":10.3},{"F":10000,"i":33,"E":538,"P":13.4},{"F":10000,"i":34,"E":547,"P":22},{"F":10000,"i":35,"E":556,"P":31.5},{"F":10000,"i":36,"E":573,"P":37},{"F":10000,"i":37,"E":640,"P":40.7},{"F":10000,"i":38,"E":720,"P":44.5},
{"F":100000,"i":0,"E":720,"P":44.5},{"F":100000,"i":1,"E":600,"P":42.5},{"F":100000,"i":2,"E":450,"P":39.5},{"F":100000,"i":3,"E":330,"P":36.5},{"F":100000,"i":4,"E":240,"P":33.5},{"F":100000,"i":5,"E":215,"P":29},{"F":100000,"i":6,"E":207,"P":19},{"F":100000,"i":7,"E":200,"P":10},{"F":100000,"i":8,"E":190,"P":5.5},{"F":100000,"i":9,"E":100,"P":2.6},{"F":100000,"i":10,"E":0,"P":0.5},{"F":100000,"i":11,"E":-150,"P":-2.6},{"F":100000,"i":12,"E":-300,"P":-5.8},{"F":100000,"i":13,"E":-500,"P":-10.5},{"F":100000,"i":14,"E":-550,"P":-13.5},{"F":100000,"i":15,"E":-562,"P":-22},{"F":100000,"i":16,"E":-572,"P":-31},{"F":100000,"i":17,"E":-590,"P":-36.5},{"F":100000,"i":18,"E":-650,"P":-40.5},{"F":100000,"i":19,"E":-720,"P":-44.5},{"F":100000,"i":20,"E":-600,"P":-42.5},{"F":100000,"i":21,"E":-450,"P":-39.5},{"F":100000,"i":22,"E":-330,"P":-36.5},{"F":100000,"i":23,"E":-240,"P":-33.5},{"F":100000,"i":24,"E":-215,"P":-29},{"F":100000,"i":25,"E":-207,"P":-19},{"F":100000,"i":26,"E":-200,"P":-10},{"F":100000,"i":27,"E":-190,"P":-5.5},{"F":100000,"i":28,"E":-100,"P":-2.6},{"F":100000,"i":29,"E":0,"P":-0.5},{"F":100000,"i":30,"E":150,"P":2.6},{"F":100000,"i":31,"E":300,"P":5.8},{"F":100000,"i":32,"E":500,"P":10.5},{"F":100000,"i":33,"E":550,"P":13.5},{"F":100000,"i":34,"E":562,"P":22},{"F":100000,"i":35,"E":572,"P":31},{"F":100000,"i":36,"E":590,"P":36.5},{"F":100000,"i":37,"E":650,"P":40.5},{"F":100000,"i":38,"E":720,"P":44.5}
],
"dInset":[
{"F":50,"i":0,"E":-1100,"I":0},{"F":50,"i":1,"E":-370,"I":0},{"F":50,"i":2,"E":-335,"I":9},{"F":50,"i":3,"E":-310,"I":0},{"F":50,"i":4,"E":810,"I":0},{"F":50,"i":5,"E":845,"I":11},{"F":50,"i":6,"E":875,"I":0},{"F":50,"i":7,"E":1100,"I":0},{"F":50,"i":8,"E":290,"I":0},{"F":50,"i":9,"E":255,"I":-9},{"F":50,"i":10,"E":230,"I":0},{"F":50,"i":11,"E":-870,"I":0},{"F":50,"i":12,"E":-900,"I":-10.5},{"F":50,"i":13,"E":-930,"I":0},{"F":50,"i":14,"E":-1100,"I":0},
{"F":1000,"i":0,"E":-1100,"I":0},{"F":1000,"i":1,"E":-380,"I":0},{"F":1000,"i":2,"E":-342,"I":8},{"F":1000,"i":3,"E":-315,"I":0},{"F":1000,"i":4,"E":815,"I":0},{"F":1000,"i":5,"E":855,"I":9.5},{"F":1000,"i":6,"E":885,"I":0},{"F":1000,"i":7,"E":1100,"I":0},{"F":1000,"i":8,"E":282,"I":0},{"F":1000,"i":9,"E":245,"I":-8},{"F":1000,"i":10,"E":218,"I":0},{"F":1000,"i":11,"E":-880,"I":0},{"F":1000,"i":12,"E":-912,"I":-9.5},{"F":1000,"i":13,"E":-945,"I":0},{"F":1000,"i":14,"E":-1100,"I":0},
{"F":10000,"i":0,"E":-1100,"I":0},{"F":10000,"i":1,"E":-390,"I":0},{"F":10000,"i":2,"E":-350,"I":7},{"F":10000,"i":3,"E":-320,"I":0},{"F":10000,"i":4,"E":820,"I":0},{"F":10000,"i":5,"E":865,"I":8},{"F":10000,"i":6,"E":898,"I":0},{"F":10000,"i":7,"E":1100,"I":0},{"F":10000,"i":8,"E":275,"I":0},{"F":10000,"i":9,"E":235,"I":-7},{"F":10000,"i":10,"E":205,"I":0},{"F":10000,"i":11,"E":-890,"I":0},{"F":10000,"i":12,"E":-925,"I":-8},{"F":10000,"i":13,"E":-960,"I":0},{"F":10000,"i":14,"E":-1100,"I":0},
{"F":100000,"i":0,"E":-1100,"I":0},{"F":100000,"i":1,"E":-400,"I":0},{"F":100000,"i":2,"E":-360,"I":6},{"F":100000,"i":3,"E":-325,"I":0},{"F":100000,"i":4,"E":830,"I":0},{"F":100000,"i":5,"E":880,"I":6.5},{"F":100000,"i":6,"E":915,"I":0},{"F":100000,"i":7,"E":1100,"I":0},{"F":100000,"i":8,"E":268,"I":0},{"F":100000,"i":9,"E":225,"I":-6},{"F":100000,"i":10,"E":195,"I":0},{"F":100000,"i":11,"E":-900,"I":0},{"F":100000,"i":12,"E":-940,"I":-6.5},{"F":100000,"i":13,"E":-980,"I":0},{"F":100000,"i":14,"E":-1100,"I":0}
],
"eTa":[{"T":75,"v":15.57},{"T":100,"v":14.3},{"T":120,"v":14.5},{"T":140,"v":13.85},{"T":160,"v":13.5},{"T":180,"v":13.45},{"T":200,"v":13.4},{"T":220,"v":12.2},{"T":240,"v":11.5},{"T":260,"v":11.15},{"T":280,"v":10.5},{"T":300,"v":9.55}],
"eTc":[{"T":75,"v":1.92},{"T":100,"v":2.59},{"T":120,"v":1.5},{"T":140,"v":1.6},{"T":160,"v":2.42},{"T":180,"v":1.6},{"T":200,"v":2.59},{"T":220,"v":2.62},{"T":240,"v":2.99},{"T":260,"v":2.72},{"T":280,"v":2.66},{"T":300,"v":3.24}],
"eFa":[{"f":50,"v":8.2},{"f":200,"v":7.33},{"f":400,"v":7.03},{"f":600,"v":6.86},{"f":800,"v":7.23},{"f":1000,"v":7.48},{"f":5000,"v":8.53},{"f":10000,"v":8.88},{"f":20000,"v":10.08},{"f":30000,"v":10.97},{"f":40000,"v":11.77},{"f":50000,"v":12.22},{"f":60000,"v":12.77},{"f":70000,"v":13.35},{"f":80000,"v":13.85},{"f":100000,"v":14.15}],
"eFc":[{"f":50,"v":3.54},{"f":200,"v":2.84},{"f":400,"v":0.92},{"f":600,"v":0.67},{"f":800,"v":0.7},{"f":1000,"v":1.17},{"f":5000,"v":2.29},{"f":10000,"v":1.99},{"f":20000,"v":1.12},{"f":30000,"v":1.92},{"f":40000,"v":1.8},{"f":50000,"v":1.85},{"f":60000,"v":2.99},{"f":70000,"v":2.84},{"f":80000,"v":3.04},{"f":100000,"v":3.24}],
"fC":[{"t":13,"p":3.6},{"t":28,"p":13.8},{"t":43,"p":37.2},{"t":63,"p":78.2},{"t":77,"p":96.2},{"t":93,"p":99},{"t":107,"p":97},{"t":119,"p":97},{"t":131,"p":97.4},{"t":145,"p":97.8},{"t":158,"p":98.1},{"t":171,"p":98.3},{"t":184,"p":98.5},{"t":197,"p":98.6},{"t":210,"p":98.7},{"t":223,"p":98.8},{"t":236,"p":98.9},{"t":249,"p":99},{"t":262,"p":99.1},{"t":275,"p":99.2},{"t":288,"p":99.3},{"t":301,"p":99.3},{"t":314,"p":99.4},{"t":327,"p":99.4},{"t":340,"p":99.5},{"t":353,"p":99.5},{"t":366,"p":99.5},{"t":379,"p":99.6},{"t":392,"p":99.6},{"t":405,"p":99.6},{"t":418,"p":99.7},{"t":431,"p":99.7},{"t":444,"p":99.7},{"t":457,"p":99.7},{"t":470,"p":99.8},{"t":483,"p":99.8},{"t":496,"p":99.8},{"t":509,"p":99.8},{"t":522,"p":99.8},{"t":535,"p":99.9},{"t":548,"p":99.9},{"t":561,"p":99.9},{"t":574,"p":99.9},{"t":587,"p":100},{"t":600,"p":100}],
"fA":[{"t":1.5,"p":0},{"t":12.8,"p":0.3},{"t":24,"p":0.8},{"t":35,"p":1.5},{"t":46.5,"p":2.3},{"t":60,"p":3.6},{"t":72.8,"p":4.8},{"t":85.5,"p":6.1},{"t":99,"p":7.4},{"t":112.5,"p":8.5},{"t":125,"p":9.7},{"t":138,"p":10.8},{"t":151.5,"p":11.8},{"t":165,"p":12.8},{"t":177.8,"p":13.8},{"t":190.5,"p":14.9},{"t":204,"p":16.1},{"t":216.8,"p":17.4},{"t":230,"p":19},{"t":243,"p":20.8},{"t":255,"p":23},{"t":267.8,"p":25.4},{"t":280.5,"p":27.4},{"t":292.5,"p":29.8},{"t":305,"p":32.5},{"t":316.5,"p":35.1},{"t":327.8,"p":38},{"t":339,"p":41},{"t":350,"p":43.6},{"t":361.5,"p":47},{"t":376.5,"p":52},{"t":391.5,"p":58},{"t":405,"p":64.6},{"t":420,"p":72.8},{"t":434,"p":81},{"t":451.5,"p":87.5},{"t":466.5,"p":92},{"t":481.5,"p":94.6},{"t":496.5,"p":96},{"t":511.5,"p":97},{"t":526.5,"p":97.7},{"t":541.5,"p":98},{"t":556.5,"p":98.2},{"t":571.5,"p":98.2},{"t":586.5,"p":98.2},{"t":600,"p":98}],
"fCline":[{"t":0,"p":0},{"t":13,"p":3.6},{"t":28,"p":13.8},{"t":43,"p":37.2},{"t":63,"p":78.2},{"t":77,"p":96.2}],
"fCfit":[{"t":0,"p":0},{"t":10,"p":3},{"t":25,"p":18},{"t":40,"p":40},{"t":50,"p":61},{"t":60,"p":80},{"t":73,"p":94.6},{"t":85,"p":97.5},{"t":100,"p":98},{"t":200,"p":98.8},{"t":400,"p":99.5},{"t":600,"p":99.8}],
"fAfit":[{"t":0,"p":0},{"t":50,"p":2.4},{"t":100,"p":7.2},{"t":150,"p":11.7},{"t":200,"p":15.7},{"t":250,"p":22},{"t":300,"p":31.5},{"t":350,"p":43.8},{"t":380,"p":53.5},{"t":400,"p":62},{"t":420,"p":72.5},{"t":440,"p":83},{"t":460,"p":90.5},{"t":480,"p":94.3},{"t":500,"p":96.3},{"t":550,"p":97.8},{"t":600,"p":98.2}]
},
"columns":3,
"spacing":{"row":63,"column":112},
"bounds":"flush",
"align":"each",
"center":true,
"resolve":{"scale":{"color":"independent"},"legend":{"color":"independent"}},
"concat":[
{
"width":276,"height":220,
"title":{"text":"a","dx":-48,"dy":15.2},
"resolve":{"scale":{"x":"independent","y":"independent"}},
"layer":[
 {"layer":[
  {"data":{"name":"aLoop"},"mark":{"type":"line","strokeWidth":1.2},
   "encoding":{
    "x":{"field":"E","type":"quantitative","scale":{"domain":[-1062,1094],"nice":false,"zero":false},"axis":{"title":"Electrical Field (kV/cm)","format":"d","labelOverlap":false,"values":[-1000,-750,-500,-250,0,250,500,750,1000],"labelExpr":"datum.value % 500 === 0 ? datum.label : ''","tickSize":{"condition":{"test":"datum.value % 500 !== 0","value":2},"value":4}}},
    "y":{"field":"P","type":"quantitative","scale":{"domain":[-54.5,52.8],"nice":false,"zero":false},"axis":{"title":"Polarization (μC/cm²)","labelOverlap":false,"values":[-40,-30,-20,-10,0,10,20,30,40,50],"labelExpr":"datum.value % 20 === 0 ? datum.label : ''","tickSize":{"condition":{"test":"datum.value % 20 !== 0","value":2},"value":4}}},
    "color":{"field":"T","type":"quantitative","scale":{"domain":[300,77],"range":["#fcd6b0","#c41318"],"zero":false,"nice":false},"legend":{"orient":"none","legendX":14,"legendY":10.5,"direction":"vertical","gradientLength":81,"gradientThickness":18,"title":null,"values":[77,300],"labelExpr":"datum.value + ' K'","labelFontSize":11.5,"labelOffset":-9,"labelOverlap":false,"labelColor":"#222","padding":0,"gradientStrokeWidth":0,"encode":{"labels":{"update":{"align":{"value":"center"},"baseline":{"signal":"datum.perc > 0.5 ? 'bottom' : 'top'"}}}}}},
    "detail":{"field":"T","type":"quantitative"},
    "order":{"field":"i","type":"quantitative"}}},
  {"data":{"name":"one"},"mark":{"type":"text","text":"a-domain","fontSize":18.5,"color":"#e0606e"},
   "encoding":{"x":{"datum":-338},"y":{"datum":23.4}}}
 ]},
 {"layer":[
  {"data":{"name":"one"},"mark":{"type":"rect","fill":"white","stroke":"#8a8a8a","strokeWidth":0.8},
   "encoding":{"x":{"datum":-1268,"scale":{"domain":[-1268,1214],"range":[168.7,261.3],"nice":false,"zero":false},"axis":{"orient":"bottom","offset":-35.2,"title":"Electrical Field (kV/cm)","format":"d","labelOverlap":false,"values":[-1000,0,1000],"domain":false,"tickSize":2.5,"labelFontSize":9,"titleFontSize":11,"labelPadding":1,"titlePadding":2}},"x2":{"datum":1214},
   "y":{"datum":-29.9,"scale":{"domain":[-29.9,29.4],"range":[184.8,110.8],"nice":false,"zero":false},"axis":{"orient":"left","offset":-168.7,"title":"Current (μA)","labelOverlap":false,"values":[-20,0,20],"domain":false,"tickSize":2.5,"labelFontSize":9,"titleFontSize":11,"labelPadding":1,"titlePadding":2}},"y2":{"datum":29.4}}},
  {"data":{"name":"aInset"},"mark":{"type":"line","strokeWidth":0.9},
   "encoding":{"x":{"field":"E","type":"quantitative"},"y":{"field":"I","type":"quantitative"},
    "color":{"field":"T","type":"quantitative","scale":{"domain":[300,77],"range":["#fcd6b0","#c41318"],"zero":false,"nice":false},"legend":{"orient":"none","legendX":14,"legendY":10.5,"direction":"vertical","gradientLength":81,"gradientThickness":18,"title":null,"values":[77,300],"labelExpr":"datum.value + ' K'","labelFontSize":11.5,"labelOffset":-9,"labelOverlap":false,"labelColor":"#222","padding":0,"gradientStrokeWidth":0,"encode":{"labels":{"update":{"align":{"value":"center"},"baseline":{"signal":"datum.perc > 0.5 ? 'bottom' : 'top'"}}}}}},
    "detail":{"field":"T","type":"quantitative"},"order":{"field":"i","type":"quantitative"}}}
 ]}
]
},
{
"width":272,"height":227,
"title":{"text":"c","dx":-46,"dy":19},
"resolve":{"scale":{"x":"independent","y":"independent"}},
"layer":[
 {"layer":[
  {"data":{"name":"cLoop"},"mark":{"type":"line","strokeWidth":1.2},
   "encoding":{
    "x":{"field":"E","type":"quantitative","scale":{"domain":[-1062,1043],"nice":false,"zero":false},"axis":{"title":"Electrical Field (kV/cm)","format":"d","labelOverlap":false,"values":[-1000,-750,-500,-250,0,250,500,750,1000],"labelExpr":"datum.value % 500 === 0 ? datum.label : ''","tickSize":{"condition":{"test":"datum.value % 500 !== 0","value":2},"value":4}}},
    "y":{"field":"P","type":"quantitative","scale":{"domain":[-50,50.5],"nice":false,"zero":false},"axis":{"title":"Polarization (μC/cm²)","labelOverlap":false,"values":[-40,-30,-20,-10,0,10,20,30,40,50],"labelExpr":"datum.value % 20 === 0 ? datum.label : ''","tickSize":{"condition":{"test":"datum.value % 20 !== 0","value":2},"value":4}}},
    "color":{"field":"T","type":"quantitative","scale":{"domain":[300,77],"range":["#c4e4f7","#1c78bd"],"zero":false,"nice":false},"legend":{"orient":"none","legendX":16.3,"legendY":16,"direction":"vertical","gradientLength":79,"gradientThickness":17,"title":null,"values":[77,300],"labelExpr":"datum.value + ' K'","labelFontSize":11.5,"labelOffset":-8.5,"labelOverlap":false,"labelColor":"#222","padding":0,"gradientStrokeWidth":0,"encode":{"labels":{"update":{"align":{"value":"center"},"baseline":{"signal":"datum.perc > 0.5 ? 'bottom' : 'top'"}}}}}},
    "detail":{"field":"T","type":"quantitative"},
    "order":{"field":"i","type":"quantitative"}}},
  {"data":{"name":"one"},"mark":{"type":"text","text":"c","fontSize":18.5,"fontStyle":"italic","align":"right","color":"#2ea7e0"},
   "encoding":{"x":{"datum":-567},"y":{"datum":21.7}}},
  {"data":{"name":"one"},"mark":{"type":"text","text":"-domain","fontSize":18.5,"align":"left","color":"#2ea7e0"},
   "encoding":{"x":{"datum":-567},"y":{"datum":21.7}}}
 ]},
 {"layer":[
  {"data":{"name":"one"},"mark":{"type":"rect","fill":"white","stroke":"#8a8a8a","strokeWidth":0.8},
   "encoding":{"x":{"datum":-1091,"scale":{"domain":[-1091,1176],"range":[173,263],"nice":false,"zero":false},"axis":{"orient":"bottom","offset":-30,"title":"Electrical Field (kV/cm)","format":"d","labelOverlap":false,"values":[-1000,-500,0,500,1000],"domain":false,"tickSize":2.5,"labelFontSize":8,"titleFontSize":11,"labelPadding":1,"titlePadding":2}},"x2":{"datum":1176},
   "y":{"datum":-155,"scale":{"domain":[-155,150],"range":[197,120],"nice":false,"zero":false},"axis":{"orient":"left","offset":-173,"title":"Current (μA)","labelOverlap":false,"values":[-150,-100,-50,0,50,100,150],"domain":false,"tickSize":2.5,"labelFontSize":8.5,"titleFontSize":11,"labelPadding":1,"titlePadding":2}},"y2":{"datum":150}}},
  {"data":{"name":"cInset"},"mark":{"type":"line","strokeWidth":0.9},
   "encoding":{"x":{"field":"E","type":"quantitative"},"y":{"field":"I","type":"quantitative"},
    "color":{"field":"T","type":"quantitative","scale":{"domain":[300,77],"range":["#c4e4f7","#1c78bd"],"zero":false,"nice":false},"legend":{"orient":"none","legendX":16.3,"legendY":16,"direction":"vertical","gradientLength":79,"gradientThickness":17,"title":null,"values":[77,300],"labelExpr":"datum.value + ' K'","labelFontSize":11.5,"labelOffset":-8.5,"labelOverlap":false,"labelColor":"#222","padding":0,"gradientStrokeWidth":0,"encode":{"labels":{"update":{"align":{"value":"center"},"baseline":{"signal":"datum.perc > 0.5 ? 'bottom' : 'top'"}}}}}},
    "detail":{"field":"T","type":"quantitative"},"order":{"field":"i","type":"quantitative"}}}
 ]}
]
},
{
"width":271,"height":226,
"title":{"text":"e","dx":-52,"dy":19.2},
"resolve":{"scale":{"x":"independent","y":"independent"}},
"layer":[
 {"layer":[
  {"data":{"name":"one"},"mark":{"type":"rect","fill":"#fbd7c6"},
   "encoding":{"x":{"datum":59.3,"scale":{"domain":[50,322],"range":[0,136],"nice":false,"zero":false},"axis":{"orient":"bottom","title":"Temperature (K)","titlePadding":6,"labelOverlap":false,"values":[50,75,100,125,150,175,200,225,250,275,300],"labelExpr":"datum.value % 50 === 0 ? datum.label : ''","tickSize":{"condition":{"test":"datum.value % 50 !== 0","value":2},"value":4}}},"x2":{"datum":304.6},
   "y":{"datum":9.23,"scale":{"domain":[0,17],"nice":false,"zero":false},"axis":{"orient":"left","title":"2Pᵣ (μC/cm²)","titlePadding":13,"labelPadding":4,"labelOverlap":false,"values":[0,2.5,5,7.5,10,12.5,15],"labelExpr":"datum.value % 5 === 0 ? datum.label : ''","tickSize":{"condition":{"test":"datum.value % 5 !== 0","value":2},"value":4}}},"y2":{"datum":15.8}}},
  {"data":{"name":"one"},"mark":{"type":"rect","fill":"#cfe5f8"},"encoding":{"x":{"datum":59.3},"x2":{"datum":304.6},"y":{"datum":1.17},"y2":{"datum":3.54}}},
  {"data":{"name":"one"},"mark":{"type":"rule","color":"#b0b0b0","strokeDash":[5,3],"strokeWidth":1},"encoding":{"y":{"datum":0.62}}},
  {"data":{"name":"eTa"},"mark":{"type":"line","color":"#e03c28","strokeWidth":1.3},"encoding":{"x":{"field":"T","type":"quantitative"},"y":{"field":"v","type":"quantitative"}}},
  {"data":{"name":"eTa"},"mark":{"type":"point","shape":"circle","size":75,"filled":true,"opacity":1,"stroke":"#a51f0d","strokeWidth":0.5,"fill":{"gradient":"radial","x1":0.35,"y1":0.3,"r1":0,"x2":0.5,"y2":0.5,"r2":0.6,"stops":[{"offset":0,"color":"#ffd2c4"},{"offset":0.45,"color":"#ea4b31"},{"offset":1,"color":"#b3220f"}]}},"encoding":{"x":{"field":"T","type":"quantitative"},"y":{"field":"v","type":"quantitative"}}},
  {"data":{"name":"eTc"},"mark":{"type":"line","color":"#3566ad","strokeWidth":1.3},"encoding":{"x":{"field":"T","type":"quantitative"},"y":{"field":"v","type":"quantitative"}}},
  {"data":{"name":"eTc"},"mark":{"type":"point","shape":"circle","size":75,"filled":true,"opacity":1,"stroke":"#1c4d8f","strokeWidth":0.5,"fill":{"gradient":"radial","x1":0.35,"y1":0.3,"r1":0,"x2":0.5,"y2":0.5,"r2":0.6,"stops":[{"offset":0,"color":"#d2e4fb"},{"offset":0.45,"color":"#4383cc"},{"offset":1,"color":"#1c4d8f"}]}},"encoding":{"x":{"field":"T","type":"quantitative"},"y":{"field":"v","type":"quantitative"}}},
  {"data":{"name":"one"},"mark":{"type":"text","text":"a","fontSize":18,"fontStyle":"italic","align":"right","color":"#e2412b"},"encoding":{"x":{"datum":88},"y":{"datum":10.15}}},
  {"data":{"name":"one"},"mark":{"type":"text","text":"-domain","fontSize":18,"align":"left","color":"#e2412b"},"encoding":{"x":{"datum":88},"y":{"datum":10.15}}},
  {"data":{"name":"one"},"mark":{"type":"text","text":"c","fontSize":18,"fontStyle":"italic","align":"right","color":"#3b6db4"},"encoding":{"x":{"datum":156},"y":{"datum":5.36}}},
  {"data":{"name":"one"},"mark":{"type":"text","text":"-domain","fontSize":18,"align":"left","color":"#3b6db4"},"encoding":{"x":{"datum":156},"y":{"datum":5.36}}},
  {"data":{"name":"one"},"mark":{"type":"rule","color":"#d9432f","strokeWidth":1},"encoding":{"x":{"datum":141.6},"y":{"datum":10.95},"y2":{"datum":12.8}}},
  {"data":{"name":"one"},"mark":{"type":"point","shape":"triangle-up","size":30,"filled":true,"color":"#d9432f","opacity":1},"encoding":{"x":{"datum":141.6},"y":{"datum":12.8}}},
  {"data":{"name":"one"},"mark":{"type":"rule","color":"#3a6db5","strokeWidth":1},"encoding":{"x":{"datum":210.6},"y":{"datum":4.54},"y2":{"datum":3.6}}},
  {"data":{"name":"one"},"mark":{"type":"point","shape":"triangle-down","size":30,"filled":true,"color":"#3a6db5","opacity":1},"encoding":{"x":{"datum":210.6},"y":{"datum":3.6}}}
 ]},
 {"layer":[
  {"data":{"name":"one"},"mark":{"type":"rect","fill":"#fbd7c6"},
   "encoding":{"x":{"datum":47,"scale":{"type":"log","domain":[33,186000],"range":[136,271],"nice":false},"axis":{"orient":"bottom","title":"Frequency (Hz)","titlePadding":6,"labelOverlap":false,"values":[40,50,60,70,80,90,100,200,300,400,500,600,700,800,900,1000,2000,3000,4000,5000,6000,7000,8000,9000,10000,20000,30000,40000,50000,60000,70000,80000,90000,100000],"labelExpr":"datum.value === 100 ? '10²' : datum.value === 1000 ? '10³' : datum.value === 10000 ? '10⁴' : datum.value === 100000 ? '10⁵' : ''","tickSize":{"condition":{"test":"datum.value !== 100 && datum.value !== 1000 && datum.value !== 10000 && datum.value !== 100000","value":2},"value":4}}},"x2":{"datum":148000},
   "y":{"datum":6.48,"scale":{"domain":[0,17],"nice":false,"zero":false},"axis":{"orient":"left","offset":-136,"title":null,"labels":false,"values":[2.5,5,7.5,10,12.5,15],"tickSize":{"condition":{"test":"datum.value % 5 !== 0","value":-2},"value":-4}}},"y2":{"datum":14.5}}},
  {"data":{"name":"one"},"mark":{"type":"rect","fill":"#cfe5f8"},"encoding":{"x":{"datum":47},"x2":{"datum":148000},"y":{"datum":1.0},"y2":{"datum":3.92}}},
  {"data":{"name":"eFa"},"mark":{"type":"line","color":"#e03c28","strokeWidth":1.3},"encoding":{"x":{"field":"f","type":"quantitative"},"y":{"field":"v","type":"quantitative"}}},
  {"data":{"name":"eFa"},"mark":{"type":"point","shape":"circle","size":75,"filled":true,"opacity":1,"stroke":"#a51f0d","strokeWidth":0.5,"fill":{"gradient":"radial","x1":0.35,"y1":0.3,"r1":0,"x2":0.5,"y2":0.5,"r2":0.6,"stops":[{"offset":0,"color":"#ffd2c4"},{"offset":0.45,"color":"#ea4b31"},{"offset":1,"color":"#b3220f"}]}},"encoding":{"x":{"field":"f","type":"quantitative"},"y":{"field":"v","type":"quantitative"}}},
  {"data":{"name":"eFc"},"mark":{"type":"line","color":"#3566ad","strokeWidth":1.3},"encoding":{"x":{"field":"f","type":"quantitative"},"y":{"field":"v","type":"quantitative"}}},
  {"data":{"name":"eFc"},"mark":{"type":"point","shape":"circle","size":75,"filled":true,"opacity":1,"stroke":"#1c4d8f","strokeWidth":0.5,"fill":{"gradient":"radial","x1":0.35,"y1":0.3,"r1":0,"x2":0.5,"y2":0.5,"r2":0.6,"stops":[{"offset":0,"color":"#d2e4fb"},{"offset":0.45,"color":"#4383cc"},{"offset":1,"color":"#1c4d8f"}]}},"encoding":{"x":{"field":"f","type":"quantitative"},"y":{"field":"v","type":"quantitative"}}},
  {"data":{"name":"one"},"mark":{"type":"text","text":"a","fontSize":18,"fontStyle":"italic","align":"right","color":"#e2412b"},"encoding":{"x":{"datum":87.8},"y":{"datum":10.15}}},
  {"data":{"name":"one"},"mark":{"type":"text","text":"-domain","fontSize":18,"align":"left","color":"#e2412b"},"encoding":{"x":{"datum":87.8},"y":{"datum":10.15}}},
  {"data":{"name":"one"},"mark":{"type":"text","text":"c","fontSize":18,"fontStyle":"italic","align":"right","color":"#3b6db4"},"encoding":{"x":{"datum":2960},"y":{"datum":4.86}}},
  {"data":{"name":"one"},"mark":{"type":"text","text":"-domain","fontSize":18,"align":"left","color":"#3b6db4"},"encoding":{"x":{"datum":2960},"y":{"datum":4.86}}},
  {"data":{"name":"one"},"mark":{"type":"rule","color":"#d9432f","strokeWidth":1},"encoding":{"x":{"datum":446},"y":{"datum":9.53},"y2":{"datum":8.2}}},
  {"data":{"name":"one"},"mark":{"type":"point","shape":"triangle-down","size":30,"filled":true,"color":"#d9432f","opacity":1},"encoding":{"x":{"datum":446},"y":{"datum":8.2}}},
  {"data":{"name":"one"},"mark":{"type":"rule","color":"#3a6db5","strokeWidth":1},"encoding":{"x":{"datum":18500},"y":{"datum":4.36},"y2":{"datum":3.5}}},
  {"data":{"name":"one"},"mark":{"type":"point","shape":"triangle-down","size":30,"filled":true,"color":"#3a6db5","opacity":1},"encoding":{"x":{"datum":18500},"y":{"datum":3.5}}}
 ]}
]
},
{
"width":276,"height":228,
"title":{"text":"b","dx":-47,"dy":14},
"resolve":{"scale":{"x":"independent","y":"independent"}},
"layer":[
 {"layer":[
  {"data":{"name":"bLoop"},"mark":{"type":"line","strokeWidth":1.2},
   "encoding":{
    "x":{"field":"E","type":"quantitative","scale":{"domain":[-709,721],"nice":false,"zero":false},"axis":{"title":"Electrical Field (kV/cm)","labelOverlap":false,"values":[-600,-500,-400,-300,-200,-100,0,100,200,300,400,500,600,700],"labelExpr":"datum.value % 200 === 0 ? datum.label : ''","tickSize":{"condition":{"test":"datum.value % 200 !== 0","value":2},"value":4}}},
    "y":{"field":"P","type":"quantitative","scale":{"domain":[-49.8,50.6],"nice":false,"zero":false},"axis":{"title":"Polarization (μC/cm²)","labelOverlap":false,"values":[-40,-30,-20,-10,0,10,20,30,40,50],"labelExpr":"datum.value % 20 === 0 ? datum.label : ''","tickSize":{"condition":{"test":"datum.value % 20 !== 0","value":2},"value":4}}},
    "color":{"field":"F","type":"quantitative","scale":{"type":"log","domain":[100000,50],"range":["#fcd6b0","#c41318"],"nice":false},"legend":{"orient":"none","legendX":14.3,"legendY":15.7,"direction":"vertical","gradientLength":78,"gradientThickness":17.4,"title":null,"values":[50,100000],"labelExpr":"datum.value === 50 ? '50 Hz' : '100 kHz'","labelFontSize":11.5,"labelOffset":-8.7,"labelOverlap":false,"labelColor":"#222","padding":0,"gradientStrokeWidth":0,"encode":{"labels":{"update":{"align":{"value":"center"},"baseline":{"signal":"datum.perc > 0.5 ? 'bottom' : 'top'"}}}}}},
    "detail":{"field":"F","type":"quantitative"},
    "order":{"field":"i","type":"quantitative"}}},
  {"data":{"name":"one"},"mark":{"type":"text","text":"a-domain","fontSize":18.5,"color":"#e0606e"},
   "encoding":{"x":{"datum":-215},"y":{"datum":23.4}}}
 ]},
 {"layer":[
  {"data":{"name":"one"},"mark":{"type":"rect","fill":"white","stroke":"#8a8a8a","strokeWidth":0.8},
   "encoding":{"x":{"datum":-814,"scale":{"domain":[-814,786],"range":[171,261],"nice":false,"zero":false},"axis":{"orient":"bottom","offset":-36,"title":"Electrical Field (kV/cm)","labelOverlap":false,"values":[-400,0,400],"domain":false,"tickSize":2.5,"labelFontSize":9,"titleFontSize":11,"labelPadding":1,"titlePadding":2}},"x2":{"datum":786},
   "y":{"datum":-1.1,"scale":{"domain":[-1.1,1.05],"range":[192,116],"nice":false,"zero":false},"axis":{"orient":"left","offset":-171,"title":"Current (mA)","labelOverlap":false,"values":[-1,0,1],"domain":false,"tickSize":2.5,"labelFontSize":9,"titleFontSize":11,"labelPadding":1,"titlePadding":2}},"y2":{"datum":1.05}}},
  {"data":{"name":"bInset"},"mark":{"type":"line","strokeWidth":0.9},
   "encoding":{"x":{"field":"E","type":"quantitative"},"y":{"field":"I","type":"quantitative"},
    "color":{"field":"F","type":"quantitative","scale":{"type":"log","domain":[100000,50],"range":["#fcd6b0","#c41318"],"nice":false},"legend":{"orient":"none","legendX":14.3,"legendY":15.7,"direction":"vertical","gradientLength":78,"gradientThickness":17.4,"title":null,"values":[50,100000],"labelExpr":"datum.value === 50 ? '50 Hz' : '100 kHz'","labelFontSize":11.5,"labelOffset":-8.7,"labelOverlap":false,"labelColor":"#222","padding":0,"gradientStrokeWidth":0,"encode":{"labels":{"update":{"align":{"value":"center"},"baseline":{"signal":"datum.perc > 0.5 ? 'bottom' : 'top'"}}}}}},
    "detail":{"field":"F","type":"quantitative"},"order":{"field":"i","type":"quantitative"}}}
 ]}
]
},
{
"width":272,"height":227,
"title":{"text":"d","dx":-50,"dy":13.5},
"resolve":{"scale":{"x":"independent","y":"independent"}},
"layer":[
 {"layer":[
  {"data":{"name":"dLoop"},"mark":{"type":"line","strokeWidth":1.2},
   "encoding":{
    "x":{"field":"E","type":"quantitative","scale":{"domain":[-883,858],"nice":false,"zero":false},"axis":{"title":"Electrical Field (kV/cm)","labelOverlap":false,"values":[-800,-600,-400,-200,0,200,400,600,800],"labelExpr":"datum.value % 400 === 0 ? datum.label : ''","tickSize":{"condition":{"test":"datum.value % 400 !== 0","value":2},"value":4}}},
    "y":{"field":"P","type":"quantitative","scale":{"domain":[-49.9,50],"nice":false,"zero":false},"axis":{"title":"Polarization (μC/cm²)","labelOverlap":false,"values":[-40,-30,-20,-10,0,10,20,30,40],"labelExpr":"datum.value % 20 === 0 ? datum.label : ''","tickSize":{"condition":{"test":"datum.value % 20 !== 0","value":2},"value":4}}},
    "color":{"field":"F","type":"quantitative","scale":{"type":"log","domain":[100000,50],"range":["#c4e4f7","#1c78bd"],"nice":false},"legend":{"orient":"none","legendX":17.3,"legendY":14.5,"direction":"vertical","gradientLength":78,"gradientThickness":17.7,"title":null,"values":[50,100000],"labelExpr":"datum.value === 50 ? '50 Hz' : '100 kHz'","labelFontSize":11.5,"labelOffset":-8.8,"labelOverlap":false,"labelColor":"#222","padding":0,"gradientStrokeWidth":0,"encode":{"labels":{"update":{"align":{"value":"center"},"baseline":{"signal":"datum.perc > 0.5 ? 'bottom' : 'top'"}}}}}},
    "detail":{"field":"F","type":"quantitative"},
    "order":{"field":"i","type":"quantitative"}}},
  {"data":{"name":"one"},"mark":{"type":"text","text":"c","fontSize":18.5,"fontStyle":"italic","align":"right","color":"#2ea7e0"},
   "encoding":{"x":{"datum":-452.5},"y":{"datum":23.1}}},
  {"data":{"name":"one"},"mark":{"type":"text","text":"-domain","fontSize":18.5,"align":"left","color":"#2ea7e0"},
   "encoding":{"x":{"datum":-452.5},"y":{"datum":23.1}}}
 ]},
 {"layer":[
  {"data":{"name":"one"},"mark":{"type":"rect","fill":"white","stroke":"#8a8a8a","strokeWidth":0.8},
   "encoding":{"x":{"datum":-1261,"scale":{"domain":[-1261,1291],"range":[176,261],"nice":false,"zero":false},"axis":{"orient":"bottom","offset":-33.5,"title":"Electrical Field (kV/cm)","labelOverlap":false,"values":[-500,0,500],"domain":false,"tickSize":2.5,"labelFontSize":9,"titleFontSize":11,"labelPadding":1,"titlePadding":2}},"x2":{"datum":1291},
   "y":{"datum":-12.9,"scale":{"domain":[-12.9,13],"range":[193.5,118.5],"nice":false,"zero":false},"axis":{"orient":"left","offset":-176,"title":"Current (mA)","labelOverlap":false,"values":[-10,-5,0,5,10],"domain":false,"tickSize":2.5,"labelFontSize":9,"titleFontSize":11,"labelPadding":1,"titlePadding":2}},"y2":{"datum":13}}},
  {"data":{"name":"dInset"},"mark":{"type":"line","strokeWidth":0.9},
   "encoding":{"x":{"field":"E","type":"quantitative"},"y":{"field":"I","type":"quantitative"},
    "color":{"field":"F","type":"quantitative","scale":{"type":"log","domain":[100000,50],"range":["#c4e4f7","#1c78bd"],"nice":false},"legend":{"orient":"none","legendX":17.3,"legendY":14.5,"direction":"vertical","gradientLength":78,"gradientThickness":17.7,"title":null,"values":[50,100000],"labelExpr":"datum.value === 50 ? '50 Hz' : '100 kHz'","labelFontSize":11.5,"labelOffset":-8.8,"labelOverlap":false,"labelColor":"#222","padding":0,"gradientStrokeWidth":0,"encode":{"labels":{"update":{"align":{"value":"center"},"baseline":{"signal":"datum.perc > 0.5 ? 'bottom' : 'top'"}}}}}},
    "detail":{"field":"F","type":"quantitative"},"order":{"field":"i","type":"quantitative"}}}
 ]}
]
},
{
"width":268,"height":225,
"title":{"text":"f","dx":-52,"dy":11.8},
"layer":[
 {"data":{"name":"one"},"mark":{"type":"rect","fill":"#cbd9ee"},
  "encoding":{"x":{"datum":0,"scale":{"domain":[0,600],"nice":false,"zero":false},"axis":{"title":"Pulse Time (ns)","titlePadding":6,"labelOverlap":false,"values":[0,50,100,150,200,250,300,350,400,450,500,550,600],"labelExpr":"datum.value % 100 === 0 ? datum.label : ''","tickSize":{"condition":{"test":"datum.value % 100 !== 0","value":2},"value":4}}},"x2":{"datum":72}}},
 {"data":{"name":"one"},"mark":{"type":"rect","fill":"#fce4e4"},"encoding":{"x":{"datum":72},"x2":{"datum":462}}},
 {"data":{"name":"one"},"mark":{"type":"rule","color":"#bbbbbb","strokeDash":[5,3],"strokeWidth":1},
  "encoding":{"y":{"datum":90,"scale":{"domain":[0,110.6],"nice":false,"zero":false},"axis":{"title":"Switching Percent (%)","titlePadding":13,"labelOverlap":false,"values":[0,10,20,30,40,50,60,70,80,90,100,110],"labelExpr":"datum.value % 20 === 0 ? datum.label : ''","tickSize":{"condition":{"test":"datum.value % 20 !== 0","value":2},"value":4}}}}},
 {"data":{"name":"fCline"},"mark":{"type":"line","color":"#3a6db5","strokeWidth":1},"encoding":{"x":{"field":"t","type":"quantitative"},"y":{"field":"p","type":"quantitative"}}},
 {"data":{"name":"fCfit"},"mark":{"type":"line","color":"#2a64b0","strokeWidth":1.6,"strokeDash":[6,4]},"encoding":{"x":{"field":"t","type":"quantitative"},"y":{"field":"p","type":"quantitative"}}},
 {"data":{"name":"fAfit"},"mark":{"type":"line","color":"#e04030","strokeWidth":1.6,"strokeDash":[6,4]},"encoding":{"x":{"field":"t","type":"quantitative"},"y":{"field":"p","type":"quantitative"}}},
 {"data":{"name":"fA"},"mark":{"type":"point","shape":"circle","size":60,"filled":true,"opacity":1,"stroke":"#a51f0d","strokeWidth":0.5,"fill":{"gradient":"radial","x1":0.35,"y1":0.3,"r1":0,"x2":0.5,"y2":0.5,"r2":0.6,"stops":[{"offset":0,"color":"#ffd2c4"},{"offset":0.45,"color":"#ea4b31"},{"offset":1,"color":"#b3220f"}]}},"encoding":{"x":{"field":"t","type":"quantitative"},"y":{"field":"p","type":"quantitative"}}},
 {"data":{"name":"fC"},"mark":{"type":"point","shape":"circle","size":60,"filled":true,"opacity":1,"stroke":"#1c4d8f","strokeWidth":0.5,"fill":{"gradient":"radial","x1":0.35,"y1":0.3,"r1":0,"x2":0.5,"y2":0.5,"r2":0.6,"stops":[{"offset":0,"color":"#d2e4fb"},{"offset":0.45,"color":"#4383cc"},{"offset":1,"color":"#1c4d8f"}]}},"encoding":{"x":{"field":"t","type":"quantitative"},"y":{"field":"p","type":"quantitative"}}},
 {"data":{"name":"one"},"mark":{"type":"text","text":"90%","fontSize":16,"align":"right","color":"#9a9a9a"},"encoding":{"x":{"datum":595},"y":{"datum":84.3}}},
 {"data":{"name":"one"},"mark":{"type":"text","text":"Dot Line: KAI","fontSize":15.5,"align":"center","color":"#9a9a9a"},"encoding":{"x":{"datum":470},"y":{"datum":10.2}}},
 {"data":{"name":"one"},"mark":{"type":"text","text":"c","fontSize":18,"fontStyle":"italic","align":"right","color":"#3d70b6"},"encoding":{"x":{"datum":111.3},"y":{"datum":69.7}}},
 {"data":{"name":"one"},"mark":{"type":"text","text":"-domain","fontSize":18,"align":"left","color":"#3d70b6"},"encoding":{"x":{"datum":111.3},"y":{"datum":69.7}}},
 {"data":{"name":"one"},"mark":{"type":"text","text":"a","fontSize":18,"fontStyle":"italic","align":"right","color":"#e0301e"},"encoding":{"x":{"datum":415.7},"y":{"datum":37.9}}},
 {"data":{"name":"one"},"mark":{"type":"text","text":"-domain","fontSize":18,"align":"left","color":"#e0301e"},"encoding":{"x":{"datum":415.7},"y":{"datum":37.9}}},
 {"data":{"name":"one"},"mark":{"type":"rule","color":"#3a6db5","strokeWidth":0.8},"encoding":{"x":{"datum":155},"y":{"datum":78},"x2":{"datum":150.4},"y2":{"datum":92.8}}},
 {"data":{"name":"one"},"mark":{"type":"point","shape":"triangle-up","size":28,"filled":true,"color":"#3a6db5","opacity":1,"angle":-4},"encoding":{"x":{"datum":150.4},"y":{"datum":92.8}}},
 {"data":{"name":"one"},"mark":{"type":"rule","color":"#b83a32","strokeWidth":0.8},"encoding":{"x":{"datum":474},"y":{"datum":44.6},"x2":{"datum":421.3},"y2":{"datum":59.1}}},
 {"data":{"name":"one"},"mark":{"type":"point","shape":"triangle-up","size":28,"filled":true,"color":"#b83a32","opacity":1,"angle":-38.5},"encoding":{"x":{"datum":421.3},"y":{"datum":59.1}}},
 {"data":{"name":"one"},"mark":{"type":"point","shape":"arrow","size":1225,"filled":true,"color":"#1c6fc2","opacity":0.95,"angle":0},"encoding":{"x":{"datum":27.75},"y":{"datum":71}}},
 {"data":{"name":"one"},"mark":{"type":"point","shape":"arrow","size":1225,"filled":true,"color":"#e0625a","opacity":0.9,"angle":74},"encoding":{"x":{"datum":117.5},"y":{"datum":16.5}}},
 {"data":{"name":"one"},"mark":{"type":"point","shape":"arrow","size":1225,"filled":true,"color":"#e0625a","opacity":0.9,"angle":39},"encoding":{"x":{"datum":280.5},"y":{"datum":38.5}}},
 {"data":{"name":"one"},"mark":{"type":"point","shape":"arrow","size":1225,"filled":true,"color":"#e0625a","opacity":0.9,"angle":25},"encoding":{"x":{"datum":386},"y":{"datum":76}}}
]
}
]
}
